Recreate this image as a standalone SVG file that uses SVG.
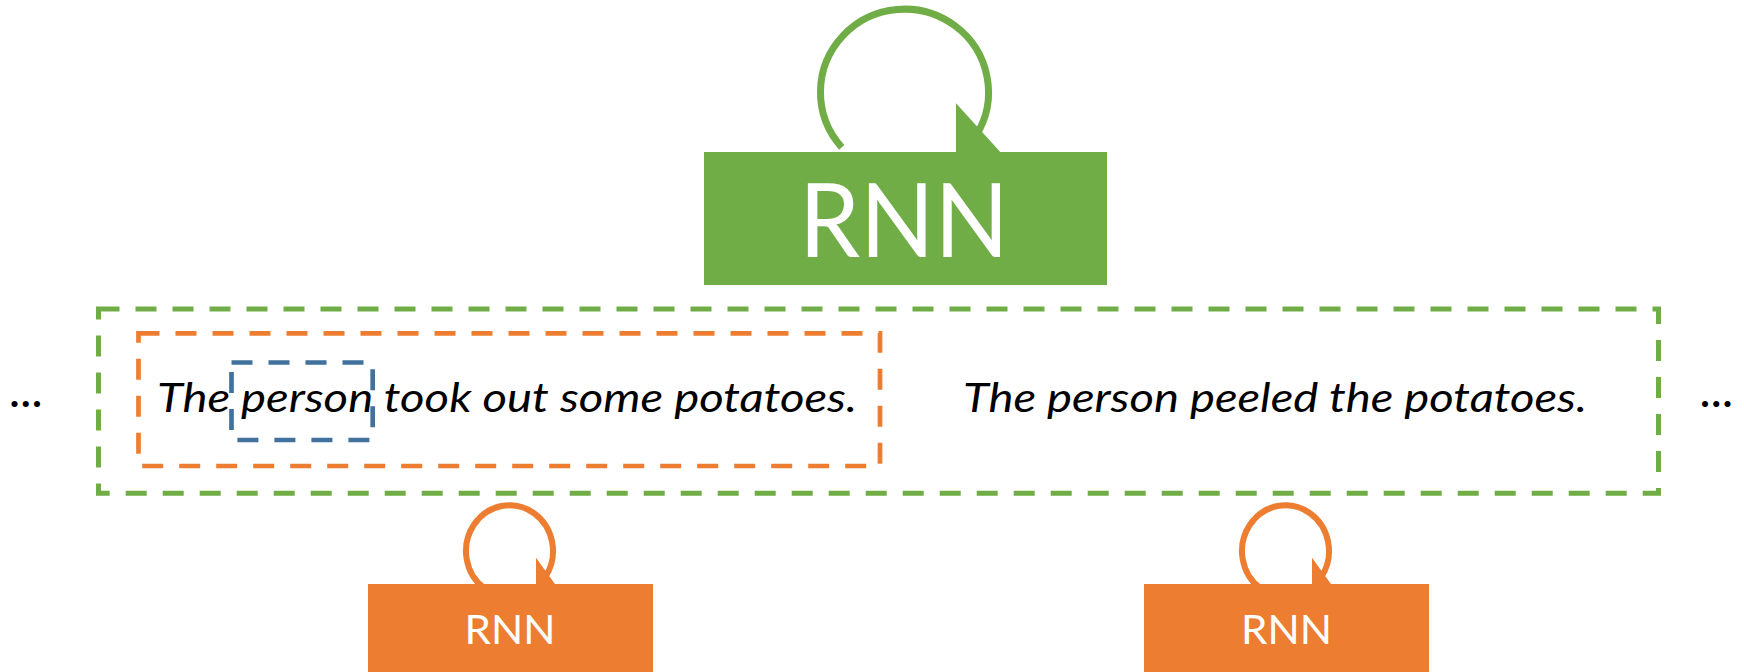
<svg xmlns="http://www.w3.org/2000/svg" width="1744" height="672" viewBox="0 0 1744 672">
  <style>
    .green-fill { fill: #70AD47; }
    .orange-fill { fill: #ED7D31; }
    .loop-green { fill: none; stroke: #70AD47; stroke-width: 7; }
    .loop-orange { fill: none; stroke: #ED7D31; stroke-width: 6; }
    .frame { fill: none; stroke-width: 5; stroke-dasharray: 21 16; }
    .frame-green { stroke: #70AD47; }
    .frame-orange { stroke: #ED7D31; stroke-width: 4.7; }
    .frame-blue { stroke: #41719C; stroke-width: 4.7; }
    .label { font-family: Lato, "Liberation Sans", sans-serif; fill: #FFFFFF; text-anchor: middle; }
    .sentence { font-family: Lato, "Liberation Sans", sans-serif; font-style: italic; font-size: 41px; fill: #000000; }
    .ellipsis { font-family: Lato, "Liberation Sans", sans-serif; font-weight: 700; font-size: 40px; fill: #000000; }
  </style>

  <!-- recurrent self-loops (drawn first so the boxes sit on top) -->
  <g id="connectors">
    <path class="loop-green" d="M 841.7 147.3 A 84 83 0 1 1 976.0 135.7"/>
    <polygon class="green-fill" points="956,103.3 1007.5,160 956,160"/>

    <path class="loop-orange" d="M 484.5 588.4 A 43.5 45.7 0 1 1 545.6 576.5"/>
    <polygon class="orange-fill" points="536,557.7 559.3,590 536,590"/>

    <path class="loop-orange" d="M 1260.5 588.4 A 43.5 45.7 0 1 1 1321.6 576.5"/>
    <polygon class="orange-fill" points="1312,557.7 1335.3,590 1312,590"/>
  </g>

  <!-- sentence-level RNN -->
  <g id="rnn-top">
    <rect class="green-fill" x="704" y="152" width="403" height="133"/>
    <text class="label" x="904" y="257" font-size="103" textLength="210" lengthAdjust="spacingAndGlyphs">RNN</text>
  </g>

  <!-- word-level RNNs -->
  <g id="rnn-left">
    <rect class="orange-fill" x="368" y="584" width="285" height="88"/>
    <text class="label" x="510" y="644" font-size="40.5" textLength="91" lengthAdjust="spacingAndGlyphs">RNN</text>
  </g>
  <g id="rnn-right">
    <rect class="orange-fill" x="1144" y="584" width="285" height="88"/>
    <text class="label" x="1286.5" y="644" font-size="40.5" textLength="91" lengthAdjust="spacingAndGlyphs">RNN</text>
  </g>

  <!-- dashed scopes -->
  <g id="window-sentences">
    <path class="frame frame-green" d="M 98.5 309 H 1658.5 V 493.2 H 98.5 Z"/>
  </g>
  <g id="window-sentence-1">
    <path class="frame frame-orange" d="M 138.5 333.3 H 880 V 466 H 138.5 Z"/>
  </g>
  <g id="window-word">
    <path class="frame frame-blue" d="M 231.5 362.5 H 372.7 V 440 H 231.5 Z"/>
  </g>

  <!-- sentences -->
  <g id="sentence-1">
    <text class="sentence" x="157" y="412" textLength="700" lengthAdjust="spacingAndGlyphs">The person took out some potatoes.</text>
  </g>
  <g id="sentence-2">
    <text class="sentence" x="963" y="412" textLength="624" lengthAdjust="spacingAndGlyphs">The person peeled the potatoes.</text>
  </g>

  <!-- continuation marks -->
  <g id="more-left">
    <text class="ellipsis" x="9.7" y="406.5" textLength="32">...</text>
  </g>
  <g id="more-right">
    <text class="ellipsis" x="1700.3" y="406.5" textLength="32">...</text>
  </g>
</svg>
